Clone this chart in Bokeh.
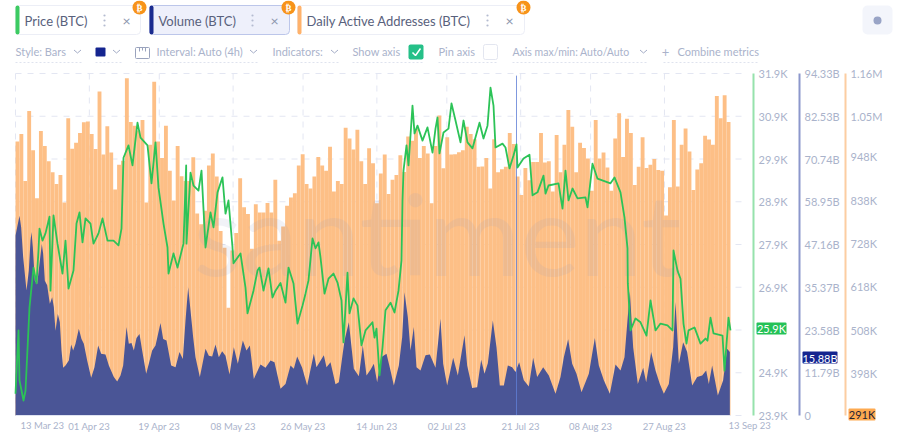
import numpy as np
from bokeh.core.properties import value
from bokeh.embed import file_html
from bokeh.models import FixedTicker, LinearAxis, Range1d
from bokeh.plotting import figure
from bokeh.resources import INLINE

# ---------- data ----------
# Daily active addresses, thousands, one bar per day
daa_k = [987,1006,887,1065,965,843,1014,976,937,909,879,902,832,1046,969,984,1009,1036,1038,1006,
         968,1114,954,1026,959,865,928,938,1148,1037,1027,1015,1042,832,979,1139,987,945,1027,913,
         837,976,899,887,887,947,804,777,811,926,957,898,760,717,565,710,755,894,820,803,
         715,828,807,807,831,807,890,735,771,824,845,856,926,955,879,868,898,948,926,913,
         974,860,887,879,1022,995,967,1017,937,879,970,932,830,906,954,854,890,902,952,910,
         1000,989,1019,945,976,957,830,976,1053,919,998,954,955,960,965,1025,1006,993,923,924,
         945,868,993,909,917,923,1009,981,898,851,920,889,935,935,1009,934,937,860,1004,909,
         979,1067,1025,909,984,971,944,862,1042,944,959,921,862,995,1059,948,1045,1009,877,923,
         998,920,928,943,915,913,799,871,1042,873,979,1020,962,864,916,932,1002,992,979,1103,
         1046,1105,1037]

# Volume, billions; vol_t = time position in axis steps
vol_t = [0,5,12,17,23,27,33,40,45,48,52,58,65,73,79,83,88,95,103,110,115,120,127,133,138,143,150,160,167,173,
         180,190,198,205,215,227,237,248,257,270,280,295,305,315,323,333,340,348,355,363,372,380,392,400,410,420,435,443,453,467,
         480,492,502,510,518,525,533,540,553,560,570,580,590,600,610,620,630,642,655,667,682,693,703,715,735,750,765,777,795,810,
         825,835,845,860,875,895,903,925,933,945,960,970,987,1000,1015,1030,1042,1053,1065,1075,1085,1097,1113,1125,1135,1150,1160,1167,1177,1185,
         1195,1203,1215,1230,1243,1260,1275,1283,1295,1313,1327,1347,1355,1370,1385,1397,1407,1417,1432,1443,1453,1465,1477,1490,1500,1511,1525,1540,1553,1565,
         1583,1600,1620,1635,1645,1658,1670,1683,1698,1720,1738,1750,1765,1783,1800,1815,1827,1843,1853,1867,1883,1892,1907,1920,1933,1945,1960,1973,1980,1990,
         2003,2015,2030,2045,2060,2072,2080,2090,2107,2123,2135,2143]
vol_b = [49.6,51.9,55.1,51.9,43.7,40.0,34.5,40.0,48.3,50.6,46.4,37.2,36.3,42.7,47.3,44.6,37.2,35.9,30.8,32.6,29.9,23.4,28.0,25.7,17.9,13.2,13.8,15.2,19.6,17.9,
         19.8,23.9,21.1,19.8,15.2,10.4,13.3,19.3,17.0,16.8,13.8,10.6,9.4,11.0,13.8,24.4,19.8,20.0,17.9,21.4,22.5,17.9,11.5,14.3,17.9,19.3,25.5,21.1,20.7,13.8,
         13.3,17.5,15.6,26.2,35.4,29.0,21.6,16.1,10.6,13.8,18.4,16.5,16.3,19.6,16.1,17.7,16.5,11.3,18.8,14.3,20.7,17.9,19.3,10.1,14.1,13.2,15.2,14.7,7.4,8.7,
         13.8,12.9,16.3,13.2,8.3,17.0,13.3,16.6,13.3,14.7,8.6,9.2,20.7,25.7,12.9,10.8,19.3,11.0,12.6,14.3,9.2,16.1,17.0,12.4,8.3,13.8,21.6,34.0,27.1,17.9,
         24.4,13.3,12.4,16.6,16.8,13.2,26.7,14.3,8.3,15.9,11.0,22.1,13.8,7.6,7.8,15.4,11.5,14.4,26.2,18.8,8.3,8.3,13.8,13.3,12.0,14.7,9.7,8.0,15.9,10.6,
         13.3,11.0,6.0,10.6,16.1,21.0,14.3,11.5,6.4,11.5,21.4,13.8,9.7,6.0,14.1,12.4,16.1,34.3,18.8,8.7,13.2,9.2,17.5,12.4,8.7,6.0,8.7,18.8,31.3,14.3,
         20.2,17.5,8.3,10.6,11.0,12.4,8.7,13.8,5.5,9.7,18.4,17.5]

# Price, thousands of USD
price_t = [0,9,12,24,30,42,54,63,69,72,81,90,102,105,114,126,141,150,159,174,183,192,201,210,225,234,249,261,276,294,
           309,318,324,339,351,366,375,396,408,420,429,444,456,459,474,486,501,504,512,513,525,534,549,558,570,585,594,606,621,630,
           639,651,654,675,690,696,714,726,732,744,759,771,780,795,810,819,834,846,861,870,879,891,900,909,915,927,939,954,966,978,
           984,996,1002,1014,1026,1038,1050,1071,1077,1083,1092,1101,1110,1125,1137,1149,1158,1161,1164,1173,1179,1191,1197,1206,1221,1236,1251,1260,1266,1272,
           1284,1299,1308,1320,1335,1344,1356,1371,1392,1404,1416,1425,1434,1440,1461,1470,1482,1494,1503,1506,1524,1542,1551,1566,1584,1590,1599,1629,1641,1650,
           1659,1671,1686,1710,1716,1731,1746,1785,1797,1815,1827,1836,1837,1845,1860,1875,1893,1905,1920,1935,1956,1971,1974,1986,1995,2004,2013,2019,2037,2055,
           2070,2076,2085,2094,2121,2127,2139,2145]
price_k = [24.41,25.89,24.72,24.25,24.48,26.43,27.36,26.99,27.76,28.27,27.99,28.16,28.55,26.82,28.58,27.92,27.22,27.99,26.87,27.29,28.39,28.65,27.95,28.51,28.39,27.92,28.16,28.51,27.99,27.99,
           27.88,28.27,29.93,30.22,29.75,30.75,30.40,30.22,29.33,30.29,29.23,28.39,27.83,27.22,27.69,27.36,27.83,27.92,29.75,27.92,29.58,29.28,29.16,29.63,27.83,28.65,28.30,29.12,29.47,28.62,
           28.93,27.83,27.46,27.69,26.89,26.29,26.82,27.29,27.36,26.82,27.34,26.66,26.82,27.00,26.54,27.36,26.99,26.05,26.47,26.75,27.06,28.04,27.81,27.95,27.60,26.75,27.10,27.22,27.01,26.59,
           25.61,27.24,26.29,26.64,26.47,25.54,25.89,26.08,25.72,25.93,24.84,25.49,26.36,26.54,26.31,26.82,27.53,28.93,29.63,30.22,29.75,31.15,30.50,30.68,30.33,30.64,30.05,30.61,30.87,30.03,
           30.52,30.61,31.20,30.80,30.29,30.80,30.29,30.15,30.75,30.38,30.68,31.57,31.15,30.17,30.26,30.17,29.68,29.98,30.24,29.70,29.91,30.00,29.05,29.12,29.51,29.09,29.28,29.33,28.74,29.63,
           28.93,29.21,28.98,29.00,28.77,29.79,29.44,29.33,29.47,29.12,28.53,27.81,26.99,25.89,26.17,26.08,25.77,26.59,25.89,26.05,26.01,25.89,27.76,27.29,27.10,26.05,25.58,25.89,25.96,25.58,
           25.70,25.65,26.19,25.82,25.77,24.95,26.19,25.89]

date_days = [19, 37, 56, 74, 93, 111, 130, 148, 167]
date_labels = ["01 Apr 23", "19 Apr 23", "08 May 23", "26 May 23", "14 Jun 23", "02 Jul 23", "21 Jul 23", "08 Aug 23", "27 Aug 23"]
price_ticks = [23.9, 24.9, 26.9, 27.9, 28.9, 29.9, 30.9, 31.9]
price_labels = ["23.9K", "24.9K", "26.9K", "27.9K", "28.9K", "29.9K", "30.9K", "31.9K"]
price_now = 25.9
vol_ticks = [0, 11.79, 23.58, 35.37, 47.16, 58.95, 70.74, 82.53, 94.33]
vol_labels = ["0", "11.79B", "23.58B", "35.37B", "47.16B", "58.95B", "70.74B", "82.53B", "94.33B"]
daa_ticks = [398, 508, 618, 728, 838, 948, 1050, 1160]
daa_labels = ["398K", "508K", "618K", "728K", "838K", "948K", "1.05M", "1.16M"]

# ---------- layout constants ----------
W, H = 900, 440
PX_L, PX_R, PX_T, PX_B = 15, 730, 73, 415
STEP_PER_PX = 3.0
T_END = (PX_R - PX_L) * STEP_PER_PX
T_PER_DAY = T_END / 184.0
BAR_STEP = T_END / len(daa_k)
FONT = value("Lato")
grid_prices = sorted(price_ticks + [price_now])


def scale_range(lo, hi):
    per_px = (hi - lo) / (PX_B - PX_T)
    return Range1d(lo - (H - PX_B) * per_px, hi + PX_T * per_px)


p = figure(width=W, height=H, output_backend="svg", toolbar_location=None, min_border=0,
           outline_line_color=None, x_axis_location=None, y_axis_location=None,
           background_fill_color="white", border_fill_color="white",
           x_range=Range1d(-PX_L * STEP_PER_PX, (W - PX_L) * STEP_PER_PX),
           y_range=scale_range(price_ticks[0], price_ticks[-1]))
p.xgrid.visible = False
p.ygrid.visible = False
p.extra_y_ranges = {"vol": scale_range(0, 94.33), "daa": scale_range(291, 1160),
                    "ui": Range1d(H, 0)}
p.extra_x_ranges = {"ui": Range1d(0, W)}
UI = dict(x_range_name="ui", y_range_name="ui")

# grid
GRID = dict(line_color="#e3e6f2", line_width=1, line_dash="6 6")
grid_end = 745
p.segment(x0=[0] * len(grid_prices), x1=[(grid_end - PX_L) * STEP_PER_PX] * len(grid_prices),
          y0=grid_prices, y1=grid_prices, **GRID)
v_days = [0] + date_days
p.segment(x0=[d * T_PER_DAY for d in v_days], x1=[d * T_PER_DAY for d in v_days],
          y0=[price_ticks[0]] * len(v_days), y1=[price_ticks[-1]] * len(v_days), **GRID)

# series
bar_x = (np.arange(len(daa_k)) + 0.5) * BAR_STEP
p.vbar(x=bar_x, top=daa_k, bottom=291, width=BAR_STEP * 0.99, fill_color="#FDBF86", line_color=None,
       y_range_name="daa")
p.text(x=[437], y=[232], text=["santiment"], text_font=FONT, text_font_size="112px", text_align="center",
       text_baseline="middle", text_color="#8f9bc4", text_alpha=0.13, **UI)
p.varea(x=vol_t, y1=[0] * len(vol_t), y2=vol_b, fill_color="#4A5596", y_range_name="vol")
p.line(x=[(516 - PX_L) * STEP_PER_PX] * 2, y=[price_ticks[0], 31.85], line_color="#5f7ed6", line_width=1, line_alpha=0.8)
p.line(x=price_t, y=price_k, line_color="#2CC357", line_width=1.8, line_join="round")


# axes
def right_axis(loc, range_name, ticks, labels, color):
    ax = LinearAxis(y_range_name=range_name, x_range_name="ui", fixed_location=loc,
                    ticker=FixedTicker(ticks=ticks),
                    major_label_overrides={t: s for t, s in zip(ticks, labels)},
                    major_tick_line_color=None, minor_tick_line_color=None,
                    major_tick_in=0, major_tick_out=0, minor_tick_in=0, minor_tick_out=0,
                    axis_line_color=color, axis_line_width=2,
                    major_label_text_color="#aab3cb", major_label_text_font="Lato",
                    major_label_text_font_size="11px", major_label_standoff=5)
    p.add_layout(ax, "right")
    return ax


a1 = right_axis(753, "default", price_ticks, price_labels, "#96E2AC")
a2 = right_axis(799, "vol", vol_ticks, vol_labels, "#8C97CC")
a3 = right_axis(845, "daa", daa_ticks, daa_labels, "#FCCDA2")
a1.bounds = (23.9, 31.9)
a2.bounds = (0, 94.33)
a3.bounds = (291, 1160)

xax = LinearAxis(ticker=FixedTicker(ticks=[d * T_PER_DAY for d in date_days]),
                 major_label_overrides={d * T_PER_DAY: s for d, s in zip(date_days, date_labels)},
                 fixed_location=price_ticks[0], bounds=(0, T_END),
                 major_tick_line_color=None, minor_tick_line_color=None,
                 major_tick_in=0, major_tick_out=0, minor_tick_in=0, minor_tick_out=0,
                 axis_line_color="#dfe3f1", axis_line_width=1,
                 major_label_text_color="#aab3cb", major_label_text_font="Lato",
                 major_label_text_font_size="9.5px", major_label_standoff=5)
p.add_layout(xax, "below")


# ---------- interface around the chart ----------
def txt(x, y, s, color="#aab3cb", size="11px", align="left", font=FONT, style="normal"):
    p.text(x=[x], y=[y], text=[s], text_color=color, text_font_size=size, text_align=align,
           text_baseline="middle", text_font=font, text_font_style=style, **UI)


def box(l, r, t, b, fill, line=None, radius=3, width=1):
    p.quad(left=[l], right=[r], top=[t], bottom=[b], fill_color=fill, line_color=line,
           line_width=width, border_radius=radius, **UI)


def chevron(x, y=51):
    p.line(x=[x - 3.5, x, x + 3.5], y=[y - 1.5, y + 1.5, y - 1.5], line_color="#a3acc6", line_width=1, **UI)


def underline(x0, x1, y=62):
    p.line(x=[x0, x1], y=[y, y], line_color="#dfe3ee", line_width=1, line_dash="2 2", **UI)


# end labels of the time axis
txt(20, 425, "13 Mar 23", size="9.5px")
txt(728, 425, "13 Sep 23", size="9.5px")

# value badges
box(756, 786, 322, 334, "#25C257", radius=1)
txt(771, 328, "25.9K", color="white", align="center")
box(802, 837, 351, 363, "#14248F", radius=1)
txt(819.5, 357.5, "15.88B", color="white", align="center")
box(848, 875, 408, 420, "#FDA950", radius=1)
txt(861.5, 414, "291K", color="#1f2233", align="center")

# metric tabs
TAB_TEXT = "#59617c"
tabs = [(15, 140, "#3CCB62", "#ffffff", "#eceef6", "Price (BTC)", 104, 126),
        (149, 289, "#1A2B8F", "#eef0fb", "#bcc6ea", "Volume (BTC)", 252, 274),
        (297, 524, "#FFB26B", "#ffffff", "#eceef6", "Daily Active Addresses (BTC)", 487, 509)]
for l, r, bar, fill, edge, label, dots, close in tabs:
    box(l, r, 5, 34, fill, line=edge, radius=4)
    box(l, l + 4, 5, 34, bar, radius=2)
    txt(l + 9, 20, label, color=TAB_TEXT, size="13px")
    p.scatter(x=[dots] * 3, y=[15, 20, 25], size=2.2, fill_color="#b4bbd0", line_color=None, **UI)
    txt(close, 20, "×", color="#8c94ad", size="14px", align="center")
    p.scatter(x=[r - 1], y=[7], size=14, fill_color="#F7931A", line_color=None, **UI)
    txt(r - 1, 7.5, "₿", color="white", size="9px", align="center", font=value("DejaVu Sans"), style="bold")

# round button on the right
box(862, 892, 5, 34, "#f3f5fb", radius=5)
p.scatter(x=[877], y=[20], size=8, fill_color="#99a4c6", line_color=None, **UI)

# control row
txt(15, 51, "Style: Bars")
chevron(77)
underline(15, 82)
box(95, 105, 47, 56, "#14248F", radius=1)
chevron(116)
underline(95, 122)
box(135, 149, 47, 58, None, line="#9aa3bd", radius=1)
p.segment(x0=[139, 142, 145], x1=[139, 142, 145], y0=[47] * 3, y1=[51, 50, 51], line_color="#9aa3bd", **UI)
txt(156, 51, "Interval: Auto (4h)")
chevron(253)
underline(135, 258)
txt(272, 51, "Indicators:")
chevron(334)
underline(272, 338)
txt(352, 51, "Show axis")
box(408, 423, 44, 59, "#25C088", radius=2)
p.line(x=[412, 415, 420], y=[52, 55, 48], line_color="white", line_width=1.5, **UI)
underline(352, 423)
txt(438, 51, "Pin axis")
box(483, 497, 44, 59, "#ffffff", line="#e3e6f0", radius=2)
underline(438, 497)
txt(512, 51, "Axis max/min: Auto/Auto", size="10.5px")
chevron(643)
underline(512, 647)
txt(665, 51, "+", size="13px", align="center")
txt(677, 51, "Combine metrics")
underline(663, 759)

open("out.html", "w").write(file_html(p, INLINE))
